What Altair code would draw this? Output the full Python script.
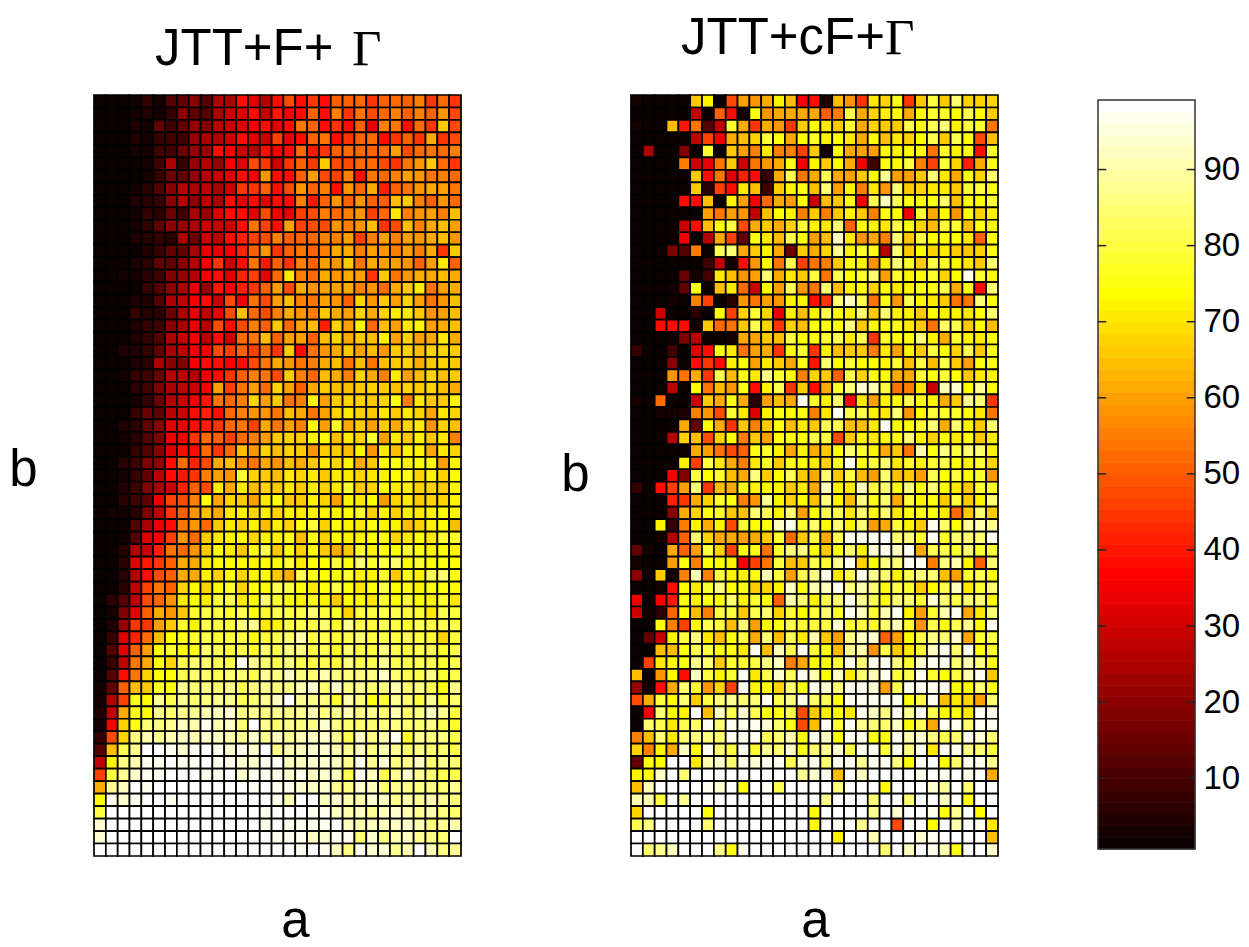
import altair as alt
import pandas as pd

TITLE_FONT = "Liberation Sans"

# Each row is one b-level (top to bottom), each entry one a-level (left to right)
jtt_f_gamma = [
[2,2,2,3,8,3,12,14,20,13,26,24,38,32,26,38,48,38,44,38,50,50,52,44,50,52,50,55,44,52,44],
[2,2,2,3,5,4,8,20,14,12,24,30,33,38,28,40,36,38,50,38,56,44,54,48,52,56,50,56,50,58,48],
[2,2,2,5,4,14,10,14,22,18,28,30,33,36,38,32,38,54,50,38,44,38,50,34,56,54,38,52,44,66,48],
[2,2,2,5,4,8,9,10,22,24,26,30,38,33,30,46,34,38,50,54,38,44,50,52,38,44,50,44,62,44,48],
[2,2,2,4,3,9,10,16,22,22,38,36,30,26,38,36,38,52,40,44,50,52,52,50,52,60,48,52,54,52,56],
[2,2,2,2,3,9,24,8,22,26,22,36,33,48,44,30,44,50,44,66,48,48,52,52,48,44,54,58,66,52,44],
[2,2,2,2,4,8,16,14,22,26,30,33,38,35,58,38,38,50,60,48,46,56,38,54,52,56,60,58,54,56,52],
[2,2,2,3,6,12,20,26,24,28,24,30,44,44,50,38,48,58,50,56,38,58,52,62,42,50,54,58,62,60,54],
[2,2,2,5,6,8,20,26,20,28,24,38,33,38,33,38,38,56,40,50,58,50,58,50,50,64,66,56,50,58,52],
[2,2,2,3,8,6,16,10,24,22,33,38,38,33,48,36,34,46,48,56,52,56,58,46,52,70,56,58,60,56,64],
[2,2,2,3,6,14,20,22,24,30,30,30,38,54,46,38,60,46,48,48,58,56,58,64,44,48,64,56,62,64,60],
[2,2,2,5,6,8,6,24,16,30,28,38,42,46,48,56,50,50,52,56,56,60,46,56,60,56,60,58,62,64,58],
[2,2,2,2,5,8,14,14,24,34,34,36,42,50,58,44,50,54,50,56,62,62,56,60,58,56,60,56,62,44,66],
[2,2,2,5,7,14,14,20,26,36,44,30,38,54,40,50,44,56,50,60,58,66,54,62,60,60,58,50,60,70,50],
[2,2,4,3,7,9,18,22,26,36,38,32,42,46,34,52,70,56,52,62,58,62,60,44,66,54,58,62,62,64,62],
[2,2,2,2,8,12,20,24,34,22,40,36,42,44,50,60,48,62,58,60,60,62,56,58,52,62,66,70,54,60,62],
[2,2,2,5,5,12,24,28,36,38,30,48,36,54,48,60,64,56,54,60,58,50,68,58,66,60,68,60,54,58,64],
[2,2,2,8,7,7,16,24,34,28,34,48,64,52,48,56,62,58,56,66,62,60,68,62,68,70,70,66,58,60,64],
[2,2,2,5,8,10,20,24,34,26,48,38,48,56,50,66,52,60,64,42,68,60,72,52,64,60,70,72,60,62,64],
[2,2,2,5,8,12,24,30,36,26,38,30,52,54,64,50,60,60,50,64,68,62,66,64,72,60,68,60,62,70,62],
[2,2,5,5,8,14,24,28,36,36,48,46,50,46,52,44,66,38,54,58,62,66,60,64,58,66,68,64,68,68,66],
[2,2,2,5,6,24,20,18,36,38,38,36,38,48,54,62,58,54,56,62,64,54,64,54,64,66,68,62,66,68,66],
[2,2,4,8,10,16,26,28,26,34,38,44,50,56,54,48,66,56,52,64,62,56,68,62,56,70,60,64,68,64,66],
[2,2,2,7,10,18,24,28,30,36,60,46,54,60,52,68,60,50,62,66,64,64,66,68,66,64,68,66,68,64,62],
[2,2,2,4,8,16,26,30,36,40,54,52,56,68,60,66,54,56,72,60,66,68,68,66,68,76,56,70,66,66,72],
[2,2,2,8,16,14,26,30,38,42,38,52,56,58,58,54,64,62,54,60,68,70,68,66,70,66,70,68,62,70,68],
[2,2,5,7,14,20,32,34,38,42,44,52,54,46,62,54,60,56,74,60,78,62,66,60,66,62,68,70,58,68,64],
[2,2,4,6,12,18,34,36,44,52,50,46,52,56,60,66,68,66,72,74,64,70,68,78,60,70,66,72,66,70,56],
[2,2,2,8,12,20,32,38,38,52,44,52,64,58,68,64,68,66,58,66,66,64,72,58,70,64,72,72,62,70,68],
[2,2,6,10,18,22,38,52,42,48,62,64,58,54,62,58,64,62,66,70,68,72,62,66,74,76,72,74,74,60,72],
[2,2,4,8,14,26,38,40,44,56,60,58,78,68,66,64,70,68,70,66,70,70,68,70,72,74,76,68,72,68,74],
[2,2,5,10,18,24,30,42,50,48,70,62,70,64,68,66,70,66,70,68,70,78,66,68,74,70,72,68,68,66,72],
[2,2,6,10,14,34,46,48,56,76,62,68,66,60,70,74,66,66,72,68,60,72,70,74,58,68,70,66,68,68,72],
[2,4,4,6,18,28,44,50,58,64,62,70,72,68,72,68,72,70,72,72,72,74,78,68,72,68,72,70,72,74,72],
[2,2,2,12,24,34,38,54,58,52,66,70,68,72,64,72,68,76,78,68,76,72,70,76,72,72,64,68,72,74,64],
[2,2,4,12,33,36,46,58,52,66,70,72,74,68,72,72,76,64,76,68,74,72,72,74,76,68,70,74,70,78,78],
[2,2,6,26,30,42,54,52,58,66,76,70,66,76,82,66,76,68,74,66,62,66,78,72,76,74,78,76,72,74,72],
[2,2,6,32,40,44,50,62,62,70,74,74,74,72,74,74,78,70,74,74,80,76,84,78,82,84,74,78,74,76,74],
[2,2,6,26,38,48,50,62,62,72,68,76,68,72,74,66,62,82,76,74,76,78,72,72,78,66,76,72,82,84,76],
[2,2,6,28,46,54,50,68,74,68,74,78,68,76,74,82,82,76,70,76,82,76,70,76,82,74,76,72,76,76,74],
[2,6,12,28,48,52,58,70,74,70,80,82,70,74,84,78,76,72,76,72,66,74,74,70,78,74,78,74,72,78,70],
[2,4,18,34,50,62,58,66,78,82,80,78,82,76,78,82,82,82,84,80,78,68,80,80,82,82,80,78,70,82,80],
[2,5,22,44,44,60,66,78,72,82,80,80,86,88,70,72,82,82,80,84,78,88,82,80,82,80,78,82,80,82,82],
[2,8,32,42,52,64,74,76,78,82,78,80,80,76,80,82,84,90,80,82,80,82,84,80,82,80,82,80,78,68,80],
[2,12,32,50,60,74,78,74,76,84,82,80,82,78,84,82,86,86,80,82,78,84,82,80,86,82,80,82,82,78,82],
[2,8,28,54,62,76,68,82,84,84,82,82,96,88,84,82,86,82,80,82,80,86,82,82,88,82,82,82,82,78,82],
[2,12,38,54,68,76,74,82,84,84,82,84,84,82,88,86,92,86,84,90,86,86,86,86,92,84,82,82,86,78,82],
[3,14,50,64,66,78,76,88,84,86,84,88,82,86,88,86,86,90,94,84,94,86,88,84,86,90,84,86,82,76,86],
[3,26,46,76,74,88,82,88,84,86,88,88,82,84,88,92,98,88,88,86,78,90,86,76,78,88,84,80,88,80,84],
[5,28,62,76,74,88,84,88,88,90,92,94,86,88,86,88,86,88,90,86,88,90,86,88,84,90,84,86,92,88,80],
[4,36,68,76,84,86,88,92,90,96,90,92,84,98,88,84,88,86,88,94,86,84,84,84,86,86,84,84,86,82,78],
[8,48,68,86,90,88,90,92,90,94,92,90,88,94,88,92,88,90,92,94,88,82,92,86,90,96,78,88,86,86,82],
[12,64,82,88,98,98,96,94,96,98,96,94,96,94,98,88,90,92,94,94,90,88,92,86,90,88,84,86,84,84,82],
[28,72,86,90,96,96,98,96,96,98,96,96,94,94,96,98,92,92,94,94,92,88,96,88,94,86,88,92,84,88,84],
[46,80,88,94,96,96,98,98,98,96,96,98,94,96,96,96,94,96,92,94,92,82,96,92,82,88,94,88,84,82,82],
[62,88,92,98,96,98,98,98,98,98,98,98,98,96,98,96,96,94,92,94,88,86,94,92,84,88,88,86,86,84,88],
[74,96,94,96,98,98,96,98,98,98,98,98,98,98,98,96,90,98,98,92,94,90,90,94,92,88,90,88,90,88,84],
[80,98,98,98,98,98,98,98,98,98,98,98,98,98,96,98,98,98,96,96,92,90,92,88,92,94,90,88,90,86,84],
[94,98,98,98,98,98,98,98,98,98,98,98,98,98,96,98,96,96,96,96,98,92,90,92,92,92,94,90,86,88,90],
[94,98,98,98,98,98,98,98,98,98,98,98,98,98,98,96,96,96,92,94,96,96,84,94,86,90,92,88,86,84,98],
[98,98,98,98,98,98,98,98,98,98,98,98,98,98,98,98,98,96,98,96,92,86,96,94,94,88,90,98,92,86,88],
]

jtt_cf_gamma = [
[3,2,2,2,2,66,72,2,48,60,58,62,72,64,36,38,5,64,58,44,70,68,75,44,66,80,66,84,68,68,68],
[2,2,2,2,2,28,2,50,38,4,76,58,62,62,62,62,50,56,80,62,68,72,74,62,74,78,78,74,82,74,66],
[4,2,2,64,40,54,12,28,78,62,44,62,58,44,66,74,70,66,78,62,68,66,66,82,76,82,86,72,80,78,54],
[2,2,2,2,2,28,46,36,62,64,68,80,76,62,74,78,72,76,70,62,74,64,70,68,74,82,66,82,76,48,64],
[2,24,2,2,18,2,78,2,66,60,56,70,56,56,46,66,4,74,62,60,60,74,72,74,74,54,78,72,76,38,78],
[2,2,2,2,56,30,34,54,66,30,54,58,62,76,36,72,66,74,62,36,10,76,74,80,56,46,80,68,42,62,76],
[2,2,2,2,2,66,38,54,32,42,38,8,62,82,54,62,82,62,60,66,74,88,60,60,66,84,70,62,76,68,84],
[2,2,2,2,2,66,6,46,38,70,64,10,66,72,76,64,84,60,72,56,70,58,84,66,68,70,70,66,78,80,76],
[2,2,2,2,38,38,64,2,72,60,36,52,62,60,74,30,64,66,76,36,82,92,82,76,74,76,84,64,74,74,80],
[2,2,2,2,2,2,60,54,60,58,28,64,74,72,56,66,56,66,72,66,56,76,74,36,78,62,74,58,76,68,72],
[2,2,2,2,30,38,64,74,80,48,62,66,62,68,78,72,70,84,50,74,72,70,82,76,68,64,80,78,64,76,72],
[2,2,2,2,36,2,26,62,46,14,76,70,64,82,76,60,64,92,70,58,62,56,84,66,80,74,76,74,70,50,76],
[2,2,2,18,12,56,2,82,84,62,66,72,62,16,66,62,68,88,72,78,76,26,84,66,74,68,70,66,66,68,76],
[2,2,2,2,2,2,10,28,4,38,58,74,54,82,46,54,56,66,76,72,58,72,84,78,66,80,78,72,70,66,84],
[2,2,2,2,16,3,10,70,64,58,60,84,62,70,66,80,54,82,74,78,84,60,78,72,74,78,68,74,96,78,74],
[2,2,2,3,14,76,2,64,70,52,30,74,60,82,58,54,84,64,72,74,68,74,70,72,76,76,82,62,76,38,84],
[2,2,2,3,2,56,46,2,6,58,54,60,58,72,72,38,44,84,92,82,54,76,58,82,72,70,66,54,54,84,74],
[2,2,30,2,2,6,2,74,46,68,78,68,34,72,64,72,82,74,72,84,66,84,72,72,66,74,72,72,70,74,84],
[2,2,38,38,38,4,66,52,54,66,82,68,44,68,64,76,76,76,86,66,74,76,76,70,66,54,84,82,66,74,64],
[2,2,2,3,18,28,2,2,4,62,60,66,64,80,74,76,78,82,70,82,44,78,74,76,86,72,62,78,72,70,74],
[8,2,2,10,2,32,38,76,70,54,60,62,44,74,78,44,72,64,66,66,56,70,60,72,66,80,74,68,82,66,76],
[2,2,2,20,2,38,44,38,72,74,60,70,66,62,76,40,84,74,78,74,74,74,78,64,80,64,82,66,60,76,76],
[2,2,2,58,54,62,44,82,64,76,70,86,78,74,56,68,66,50,82,68,76,74,62,62,78,76,80,74,66,70,72],
[2,2,2,28,2,74,54,64,58,76,38,72,82,44,66,38,62,78,84,94,90,80,54,56,70,30,90,94,74,88,74],
[4,2,52,2,2,30,66,62,76,62,6,60,64,62,96,78,72,84,36,70,60,72,74,82,76,72,62,66,88,84,44],
[2,2,3,3,5,56,58,48,78,70,32,72,76,74,76,56,70,96,80,82,72,70,84,58,74,80,78,78,76,70,54],
[2,2,2,2,62,14,74,62,44,66,56,66,76,64,70,66,82,82,64,64,70,96,74,74,78,84,62,84,72,66,84],
[2,2,2,26,68,64,48,68,74,56,66,60,76,76,74,82,80,48,66,72,70,74,76,84,72,68,76,70,76,66,70],
[2,2,2,2,2,62,60,54,48,50,76,78,72,62,72,62,66,76,84,78,72,62,66,54,90,76,86,80,84,84,72],
[2,2,2,2,72,46,80,70,62,56,70,78,66,76,74,70,68,78,96,76,80,84,70,78,72,78,82,76,72,78,68],
[2,2,2,36,18,80,74,78,64,62,86,66,74,82,66,62,84,66,80,64,60,84,64,66,60,82,76,80,74,78,58],
[8,2,38,46,60,84,44,64,62,76,72,72,72,66,70,62,92,72,70,92,80,84,76,86,74,84,74,70,66,78,78],
[2,2,2,42,44,62,68,78,76,56,58,88,72,68,74,64,86,72,64,86,76,84,62,80,72,76,66,80,66,72,84],
[2,2,2,20,62,68,76,78,66,64,84,82,72,84,60,74,82,82,70,84,76,84,70,76,76,76,70,52,66,84,66],
[2,2,72,8,56,72,62,72,48,78,74,76,92,96,78,84,74,84,72,84,60,62,80,72,66,96,84,74,88,90,88],
[2,2,3,26,50,84,68,62,62,60,62,66,78,52,66,80,62,82,96,96,96,98,84,86,78,96,78,84,84,84,96],
[14,4,2,62,50,60,80,68,46,74,76,54,78,86,86,76,66,76,84,72,94,96,92,96,62,82,82,78,84,78,80],
[3,2,2,60,76,56,74,74,72,36,46,54,80,64,66,82,78,88,96,68,74,86,84,96,96,56,86,90,72,50,84],
[20,2,66,4,56,90,56,80,72,72,76,90,80,60,82,86,96,70,82,96,88,84,72,82,86,84,64,60,78,82,74],
[2,2,3,38,74,70,78,86,74,76,66,68,72,92,76,90,92,96,84,90,84,76,82,78,66,74,82,92,70,78,84],
[34,2,36,40,76,72,76,74,84,72,78,76,50,90,84,72,82,84,96,88,82,76,84,84,78,94,84,82,84,84,74],
[30,3,6,50,74,64,56,80,80,66,82,84,68,78,74,80,84,78,96,92,78,90,96,72,60,78,90,96,62,70,84],
[2,2,76,56,46,74,82,80,64,84,60,72,76,82,78,80,80,94,78,80,78,84,90,78,58,82,76,82,88,74,96],
[2,14,30,72,80,86,70,64,76,80,62,84,64,82,70,90,66,60,86,92,94,50,60,74,80,86,84,94,62,78,82],
[2,2,64,64,76,82,80,76,76,70,96,64,90,82,96,80,76,64,88,90,58,82,66,70,78,92,96,84,96,76,78],
[2,46,70,74,76,86,84,66,78,78,80,86,92,56,62,74,76,80,96,84,96,96,86,78,94,96,96,84,90,86,76],
[64,2,58,74,38,92,80,72,78,96,70,82,94,82,96,90,74,92,70,84,90,96,80,82,96,78,76,80,90,96,66],
[22,4,38,62,84,78,58,68,46,96,72,76,68,84,76,96,94,84,96,96,94,60,82,96,96,96,96,76,74,84,76],
[48,62,80,74,84,66,80,84,88,84,84,96,82,86,96,84,82,76,96,96,96,96,96,76,80,96,64,70,68,60,84],
[2,36,84,74,72,98,64,92,82,94,82,76,76,82,48,66,72,74,70,96,92,86,96,88,96,82,74,76,70,96,96],
[2,84,82,70,82,84,96,84,96,96,96,94,84,76,48,64,96,80,96,88,84,84,92,74,82,62,96,96,84,96,96],
[56,64,84,70,84,86,86,84,96,96,96,82,84,90,76,96,92,74,96,96,75,76,96,90,94,86,82,84,96,94,84],
[68,56,72,62,92,74,96,84,80,96,78,88,84,94,76,84,88,94,80,96,96,80,96,86,96,70,96,96,86,84,80],
[14,76,74,98,98,70,90,94,84,96,94,96,96,82,94,96,84,96,96,88,96,96,86,74,96,98,74,84,96,96,88],
[72,76,92,98,84,98,98,98,98,98,98,98,98,98,88,94,96,64,98,92,98,98,98,98,96,98,96,98,96,98,62],
[64,90,98,98,98,98,96,94,98,76,98,96,82,98,98,98,98,86,98,98,98,74,98,98,98,94,88,98,84,98,98],
[90,90,80,98,88,98,98,98,98,98,98,98,98,98,98,98,88,98,98,98,84,98,98,84,98,98,92,98,76,98,98],
[68,98,98,98,98,98,76,98,98,98,98,98,98,98,98,74,98,98,98,98,88,98,94,98,98,96,76,88,98,74,98],
[82,86,98,98,98,98,84,98,98,98,98,98,98,98,98,74,98,96,98,88,98,98,48,98,98,74,98,90,98,96,70],
[98,98,98,98,98,98,98,98,98,98,98,98,98,98,98,98,98,72,98,98,90,98,98,98,94,96,98,98,98,98,64],
[98,84,88,92,98,98,98,88,76,96,98,98,98,98,98,98,98,98,98,98,98,84,98,92,98,96,90,76,98,98,94],
]

colorbar_ticks = [10, 20, 30, 40, 50, 60, 70, 80, 90]
value_domain = [1, 99]


def hot_colormap(m=64):
    n = 3 * m // 8
    out = []
    for i in range(1, m + 1):
        r = min(i / n, 1)
        g = min(max((i - n) / n, 0), 1)
        b = max((i - 2 * n) / (m - 2 * n), 0)
        out.append("#%02x%02x%02x" % (round(r * 255), round(g * 255), round(b * 255)))
    return out


hot = hot_colormap()


def long_form(rows):
    return pd.DataFrame(
        [
            {"a": i + 1, "b": j + 1, "v": v}
            for j, row in enumerate(rows)
            for i, v in enumerate(row)
        ]
    )


def panel(rows, title, title_x, title_y, gamma_x, a_x, b_x, b_y, view_width):
    cells = (
        alt.Chart(long_form(rows))
        .mark_rect(stroke="black", strokeWidth=1.7)
        .encode(
            x=alt.X(
                "a:O",
                scale=alt.Scale(paddingInner=0, paddingOuter=0, range=[0, 367]),
                axis=alt.Axis(
                    title="a", labels=False, ticks=False, domain=False, grid=False,
                    titleFont=TITLE_FONT, titleFontSize=51, titleFontWeight="normal",
                    titleX=a_x, titleY=80, titleBaseline="alphabetic", titleAlign="center",
                ),
            ),
            y=alt.Y(
                "b:O",
                scale=alt.Scale(paddingInner=0, paddingOuter=0),
                axis=alt.Axis(
                    title="b", labels=False, ticks=False, domain=False, grid=False,
                    titleFont=TITLE_FONT, titleFontSize=51, titleFontWeight="normal",
                    titleAngle=0, titleX=b_x, titleY=b_y, titleBaseline="middle", titleAlign="center",
                ),
            ),
            color=alt.Color(
                "v:Q",
                scale=alt.Scale(type="quantize", domain=value_domain, range=hot),
                legend=None,
            ),
        )
    )
    heading = (
        alt.Chart(alt.Data(values=[{"t": title}]))
        .mark_text(font=TITLE_FONT, fontSize=51, align="left", baseline="alphabetic", color="black")
        .encode(text="t:N", x=alt.value(title_x), y=alt.value(title_y))
    )
    gamma = (
        alt.Chart(alt.Data(values=[{"t": "Γ"}]))
        .mark_text(font="Liberation Serif", fontSize=51, align="left", baseline="alphabetic", color="black")
        .encode(text="t:N", x=alt.value(gamma_x), y=alt.value(title_y))
    )
    return alt.layer(cells, heading, gamma).properties(width=view_width, height=761)


left = panel(jtt_f_gamma, "JTT+F+", 61, -30, 258, 201, -71, 375, 437)
right = panel(jtt_cf_gamma, "JTT+cF+", 50, -41, 254, 184, -56, 380, 367)

# colour bar: one band per colour of the map
lo_v, hi_v = 0.69, 99.15
step = (hi_v - lo_v) / len(hot)
bands = pd.DataFrame(
    [
        {"lo": lo_v + i * step, "hi": lo_v + (i + 1) * step, "c": c, "x0": 0, "x1": 1}
        for i, c in enumerate(hot)
    ]
)
y_scale = alt.Scale(domain=[-0.23, 99.8], nice=False, zero=False)
x_scale = alt.Scale(domain=[0, 1], nice=False)
y_axis = alt.Axis(
    orient="right", values=colorbar_ticks, title=None, ticks=False, domain=False,
    grid=False, labelFont=TITLE_FONT, labelFontSize=33, labelPadding=8,
    labelColor="black",
)

bar = (
    alt.Chart(bands)
    .mark_rect(strokeWidth=0.8)
    .encode(
        x=alt.X("x0:Q", scale=x_scale, axis=None),
        x2="x1:Q",
        y=alt.Y("lo:Q", scale=y_scale, axis=y_axis),
        y2="hi:Q",
        color=alt.Color("c:N", scale=None),
        stroke=alt.Color("c:N", scale=None),
    )
)
frame = (
    alt.Chart(pd.DataFrame([{"lo": lo_v, "hi": hi_v, "x0": 0, "x1": 1}]))
    .mark_rect(fill=None, stroke="#333333", strokeWidth=1.5)
    .encode(
        x=alt.X("x0:Q", scale=x_scale, axis=None),
        x2="x1:Q",
        y=alt.Y("lo:Q", scale=y_scale, axis=y_axis),
        y2="hi:Q",
    )
)
tick_rows = []
for t in colorbar_ticks:
    tick_rows.append({"v": t, "x0": 0, "x1": 0.085})
    tick_rows.append({"v": t, "x0": 0.915, "x1": 1})
ticks = (
    alt.Chart(pd.DataFrame(tick_rows))
    .mark_rule(color="#222222", strokeWidth=1.5)
    .encode(
        x=alt.X("x0:Q", scale=x_scale, axis=None),
        x2="x1:Q",
        y=alt.Y("v:Q", scale=y_scale, axis=y_axis),
    )
)
colorbar = alt.layer(bar, frame, ticks).properties(width=97, height=761)

chart = (
    alt.hconcat(left, right, colorbar, spacing=100, bounds="flush")
    .resolve_scale(color="independent")
    .configure_view(stroke=None)
    .properties(padding={"left": 0, "top": 5, "right": 0, "bottom": 81}, background="white")
)
chart.save("out.html", embed_options={"renderer": "svg", "actions": False})
